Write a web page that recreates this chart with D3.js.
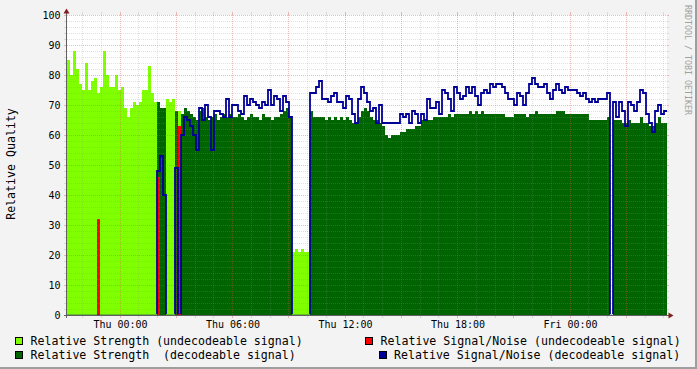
<!DOCTYPE html>
<html>
<head>
<meta charset="utf-8">
<script src="https://cdn.jsdelivr.net/npm/d3@7"></script>
<style>
body { margin: 0; background: #f3f3f3; }
svg { display: block; }
text { font-family: "DejaVu Sans Mono", monospace; }
</style>
</head>
<body>
<svg width="697" height="369"></svg>
<script>
// samples are 9.6 minutes apart, first one Wed 21:10 UTC
var startTime = Date.UTC(2003, 11, 31, 21, 10, 24);
var stepMinutes = 9.6;

var strength = [
    85, 80, 88, 82, 77, 75, 84, 75, 78, 79,
    74, 76, 88, 80, 76, 76, 80, 75, 76, 69,
    66, 69, 71, 70, 71, 75, 75, 83, 74, 71,
    71, 69, 69, 72, 71, 72, 68, 68, 67, 69,
    68, 67, 66, 65, 68, 69, 66, 65, 66, 67,
    65, 66, 67, 66, 67, 66, 66, 67, 66, 65,
    66, 67, 66, 66, 65, 67, 66, 66, 65, 66,
    66, 67, 68, 69, 66, 21, 22, 21, 22, 21,
    21, 68, 66, 66, 66, 66, 65, 66, 65, 66,
    65, 66, 65, 66, 65, 64, 64, 66, 68, 69,
    68, 66, 65, 65, 64, 63, 60, 59, 60, 60,
    60, 61, 61, 62, 62, 62, 63, 63, 65, 65,
    65, 65, 66, 66, 66, 66, 66, 67, 66, 67,
    67, 67, 67, 67, 68, 67, 68, 67, 68, 67,
    67, 67, 67, 67, 67, 67, 66, 66, 66, 67,
    67, 67, 67, 66, 67, 67, 68, 67, 67, 67,
    67, 67, 67, 68, 68, 68, 67, 67, 67, 67,
    67, 67, 67, 67, 65, 65, 65, 65, 65, 65,
    66, 0, 65, 65, 65, 64, 64, 65, 64, 64,
    64, 66, 64, 64, 63, 63, 64, 66, 64, 64
];

var snr = [
    0, 0, 0, 0, 0, 0, 0, 0, 0, 0,
    0, 0, 0, 0, 0, 0, 0, 0, 0, 0,
    0, 0, 0, 0, 0, 0, 0, 0, 0, 0,
    48, 53, 40, 0, 0, 0, 49, 0, 60, 66,
    65, 63, 60, 55, 69, 65, 70, 66, 55, 68,
    68, 67, 66, 72, 66, 70, 70, 68, 67, 73,
    70, 72, 71, 70, 69, 71, 70, 75, 70, 73,
    72, 68, 73, 71, 66, 0, 0, 0, 0, 0,
    0, 74, 74, 76, 78, 72, 72, 71, 73, 74,
    71, 71, 69, 73, 72, 67, 64, 72, 76, 74,
    71, 68, 69, 64, 70, 64, 64, 64, 64, 64,
    64, 67, 66, 67, 64, 68, 67, 64, 67, 65,
    72, 69, 69, 71, 67, 75, 74, 72, 68, 76,
    74, 72, 73, 76, 74, 76, 73, 70, 74, 75,
    74, 77, 76, 77, 77, 76, 74, 72, 72, 70,
    74, 73, 70, 74, 77, 79, 77, 76, 76, 77,
    74, 72, 75, 77, 75, 74, 76, 75, 75, 75,
    74, 73, 74, 72, 71, 72, 71, 72, 72, 72,
    74, 0, 71, 66, 71, 68, 63, 71, 70, 68,
    71, 75, 74, 67, 64, 61, 68, 70, 67, 68
];

// sample index ranges where the signal could not be decoded
var undecodeable = [[0, 29], [33, 35], [37, 37], [75, 80]];
// [sample index, value] of the signal/noise of undecodeable signal
var snrUndecodeable = [[10, 32], [30, 46], [37, 63]];

var yTicks = [0, 10, 20, 30, 40, 50, 60, 70, 80, 90, 100];
var xLabelHours = 6;
var legendNames = [
    "Relative Strength (undecodeable signal)",
    "Relative Strength  (decodeable signal)",
    "Relative Signal/Noise (undecodeable signal)",
    "Relative Signal/Noise (decodeable signal)"
];

var colStrengthUndec = "#80ff00";
var colStrengthDec = "#006400";
var colSnrUndec = "#ff0000";
var colSnrDec = "#000099";

var svg = d3.select("svg");
var n = strength.length;
var times = d3.range(n + 1).map(function (i) {
    return new Date(startTime + i * stepMinutes * 60000);
});
function isUndec(i) {
    return undecodeable.some(function (r) { return i >= r[0] && i <= r[1]; });
}

var xScale = d3.scaleUtc().domain([times[0], times[n]]).range([67, 667]);
var yScale = d3.scaleLinear().domain([0, 100]).range([315, 15]);

// frame shading
svg.append("rect").attr("x", 0).attr("y", 0).attr("width", 697).attr("height", 369).attr("fill", "#f3f3f3");
svg.append("rect").attr("x", 0).attr("y", 367).attr("width", 697).attr("height", 2).attr("fill", "#9e9e9e");
svg.append("rect").attr("x", 695).attr("y", 0).attr("width", 2).attr("height", 369).attr("fill", "#9e9e9e");

// canvas
svg.append("rect").attr("x", 67).attr("y", 15).attr("width", 600).attr("height", 300).attr("fill", "#ffffff");

var idx = d3.range(n);
svg.append("g").selectAll("rect").data(idx.filter(isUndec)).enter().append("rect")
    .attr("x", function (i) { return xScale(times[i]); })
    .attr("width", function (i) { return xScale(times[i + 1]) - xScale(times[i]); })
    .attr("y", function (i) { return yScale(strength[i]); })
    .attr("height", function (i) { return yScale(0) - yScale(strength[i]); })
    .attr("fill", colStrengthUndec).attr("shape-rendering", "crispEdges");

svg.append("g").selectAll("rect").data(idx.filter(function (i) { return !isUndec(i); })).enter().append("rect")
    .attr("x", function (i) { return xScale(times[i]); })
    .attr("width", function (i) { return xScale(times[i + 1]) - xScale(times[i]); })
    .attr("y", function (i) { return yScale(strength[i]); })
    .attr("height", function (i) { return yScale(0) - yScale(strength[i]); })
    .attr("fill", colStrengthDec).attr("shape-rendering", "crispEdges");

svg.append("g").selectAll("rect").data(snrUndecodeable).enter().append("rect")
    .attr("x", function (d) { return xScale(times[d[0]]); })
    .attr("width", function (d) { return xScale(times[d[0] + 1]) - xScale(times[d[0]]); })
    .attr("y", function (d) { return yScale(d[1]); })
    .attr("height", function (d) { return yScale(0) - yScale(d[1]); })
    .attr("fill", colSnrUndec).attr("shape-rendering", "crispEdges");

// grid
var grid = svg.append("g").attr("shape-rendering", "crispEdges");
var minorCol = "rgba(143,143,143,0.27)";
var majorCol = "rgba(222,80,80,0.39)";
d3.range(0, 101, 2).forEach(function (v) {
    var y = Math.round(yScale(v)) + 0.5;
    var c = v % 10 == 0 ? majorCol : minorCol;
    grid.append("line").attr("x1", 67).attr("x2", 667).attr("y1", y).attr("y2", y)
        .attr("stroke", c).attr("stroke-dasharray", "1,1");
    grid.append("line").attr("x1", 64).attr("x2", 66).attr("y1", y).attr("y2", y).attr("stroke", c);
    grid.append("line").attr("x1", 667).attr("x2", 669).attr("y1", y).attr("y2", y).attr("stroke", c);
});
xScale.ticks(d3.utcHour.every(1)).forEach(function (t) {
    var x = Math.floor(xScale(t)) + 0.5;
    var c = t.getUTCHours() % 3 == 0 ? majorCol : minorCol;
    grid.append("line").attr("x1", x).attr("x2", x).attr("y1", 15).attr("y2", 315)
        .attr("stroke", c).attr("stroke-dasharray", "1,1");
    grid.append("line").attr("x1", x).attr("x2", x).attr("y1", 12).attr("y2", 15).attr("stroke", c);
    grid.append("line").attr("x1", x).attr("x2", x).attr("y1", 315).attr("y2", 318).attr("stroke", c);
});

// signal/noise line, the part lying on zero is hidden below the axis
svg.append("clipPath").attr("id", "plotClip").append("rect")
    .attr("x", 60).attr("y", 0).attr("width", 620).attr("height", 314.2);
var linePts = idx.map(function (i) { return [times[i], isUndec(i) ? 0 : snr[i]]; });
linePts.push([times[n], snr[n - 1]]);
var snrLine = d3.line()
    .x(function (d) { return xScale(d[0]); })
    .y(function (d) { return yScale(d[1]); })
    .curve(d3.curveStepAfter);
svg.append("path").attr("d", snrLine(linePts)).attr("fill", "none")
    .attr("clip-path", "url(#plotClip)")
    .attr("stroke", colSnrDec).attr("stroke-width", 1.8);

// axes
var axisCol = "#606060";
svg.append("line").attr("x1", 66.5).attr("x2", 66.5).attr("y1", 318).attr("y2", 11).attr("stroke", axisCol);
svg.append("line").attr("x1", 64).attr("x2", 670).attr("y1", 315.5).attr("y2", 315.5).attr("stroke", axisCol);
svg.append("path").attr("d", "M63.5,13.5L69.5,13.5L66.5,8.5Z").attr("fill", "#7f1f1f");
svg.append("path").attr("d", "M668.5,312.5L668.5,318.5L673.5,315.5Z").attr("fill", "#7f1f1f");

var yAxis = d3.axisLeft(yScale).tickValues(yTicks).tickSize(0).tickPadding(6);
svg.append("g").attr("transform", "translate(66.5,0)").call(yAxis)
    .attr("font-family", "DejaVu Sans Mono").attr("font-size", 10)
    .call(function (g) { g.select(".domain").remove(); })
    .selectAll("text").attr("fill", "#000");

var xAxis = d3.axisBottom(xScale)
    .ticks(d3.utcHour.every(xLabelHours))
    .tickFormat(d3.utcFormat("%a %H:%M"))
    .tickSize(0).tickPadding(6);
svg.append("g").attr("transform", "translate(0,315)").call(xAxis)
    .attr("font-family", "DejaVu Sans Mono").attr("font-size", 10)
    .call(function (g) { g.select(".domain").remove(); })
    .selectAll("text").attr("fill", "#000");

// vertical label
svg.append("text").attr("transform", "translate(15,164) rotate(-90)")
    .attr("text-anchor", "middle").attr("font-size", 11.6).text("Relative Quality");

// watermark
svg.append("text").attr("transform", "translate(685,5) rotate(90)")
    .attr("font-size", 8.3).attr("fill", "#a0a0a0").text("RRDTOOL / TOBI OETIKER");

// legend
var legendPos = [[15, 345, 30.5], [15, 359, 30.5], [365, 345, 380.5], [379, 359, 394]];
var legendCols = [colStrengthUndec, colStrengthDec, colSnrUndec, colSnrDec];
legendNames.forEach(function (name, k) {
    var p = legendPos[k];
    svg.append("rect").attr("x", p[0] + 0.5).attr("y", p[1] - 7.5).attr("width", 7).attr("height", 7)
        .attr("fill", legendCols[k]).attr("stroke", "#000").attr("stroke-width", 1);
    svg.append("text").attr("x", p[2]).attr("y", p[1]).attr("font-size", 11.6)
        .attr("xml:space", "preserve").style("white-space", "pre").text(name);
});
</script>
</body>
</html>
